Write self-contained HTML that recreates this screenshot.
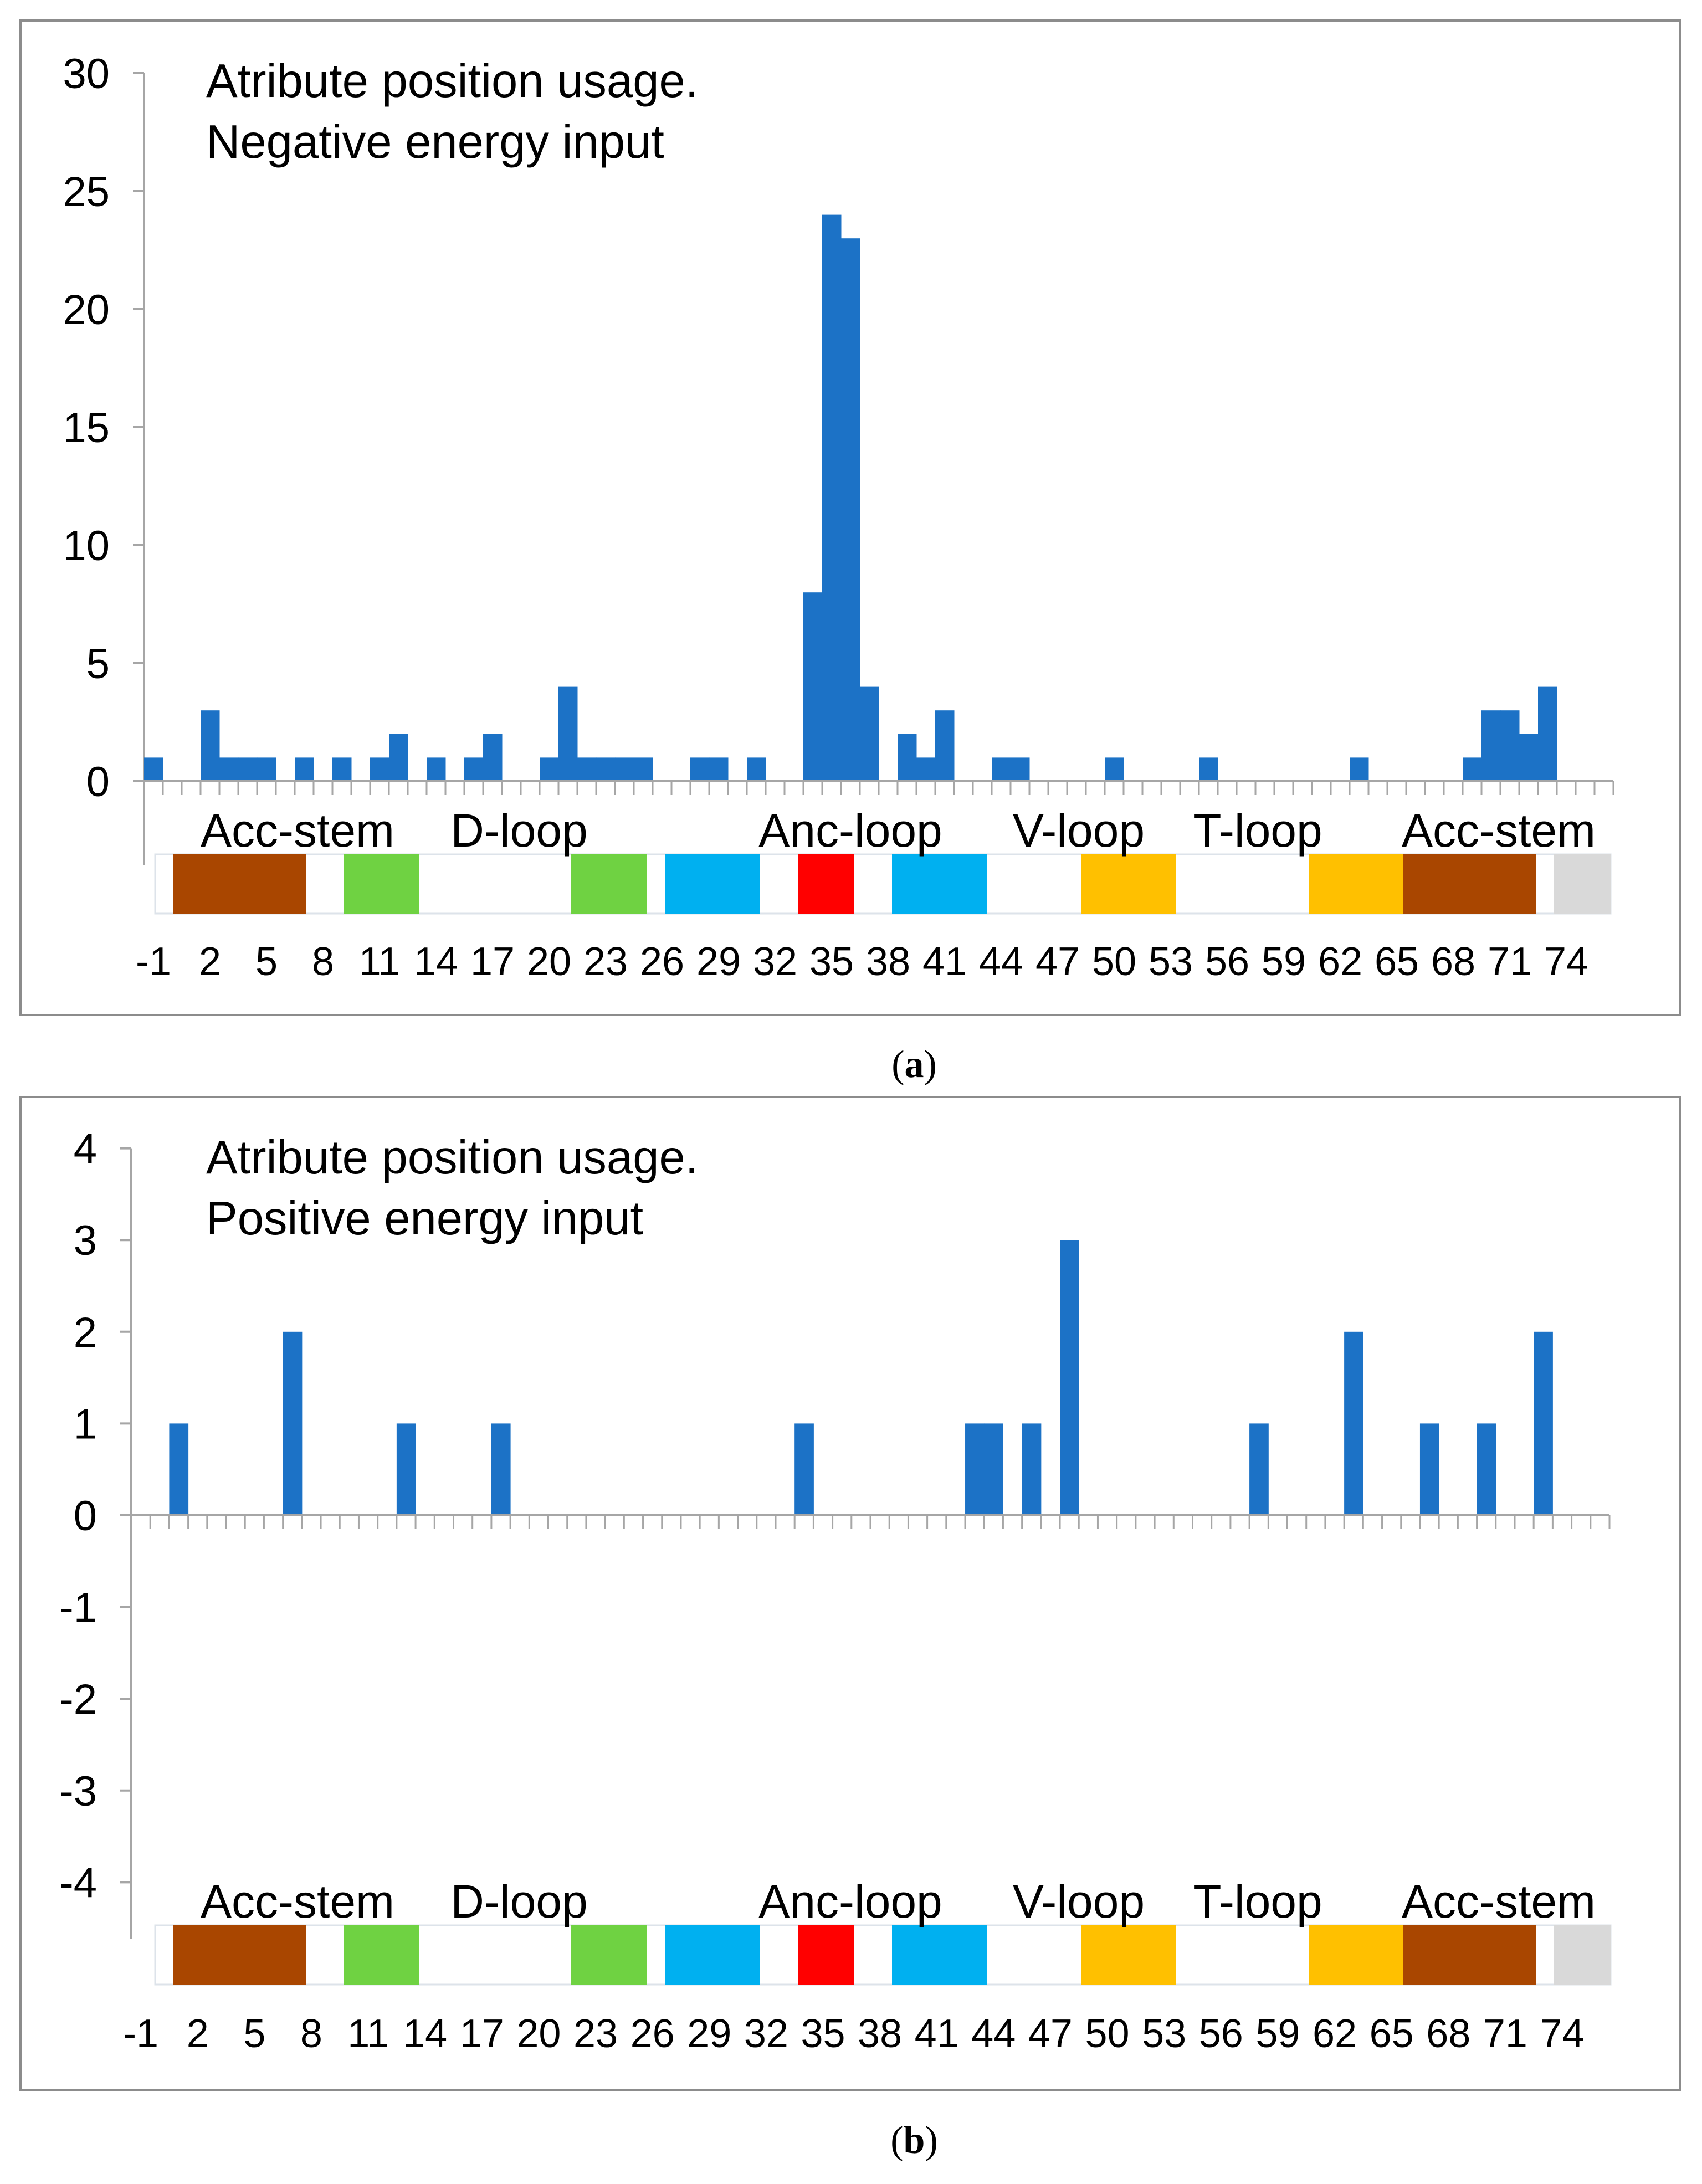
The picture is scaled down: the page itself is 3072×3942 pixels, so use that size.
<!DOCTYPE html>
<html><head><meta charset="utf-8"><style>
html,body{margin:0;padding:0;background:#fff;}
svg{display:block;font-family:"Liberation Sans",sans-serif;}
</style></head><body>
<svg id="fig" width="3072" height="3942" viewBox="0 0 3072 3942" xmlns="http://www.w3.org/2000/svg"></svg>
<script>
// Data
const positions = []; for (let p = -1; p <= 76; p++) positions.push(p);
const negValues = [1,0,0,3,1,1,1,0,1,0,1,0,1,2,0,1,0,1,2,0,0,1,4,1,1,1,1,0,0,1,1,0,1,0,0,8,24,23,4,0,2,1,3,0,0,1,1,0,0,0,0,1,0,0,0,0,1,0,0,0,0,0,0,0,1,0,0,0,0,0,1,3,3,2,4,0,0,0];
const posValues = [0,0,1,0,0,0,0,0,2,0,0,0,0,0,1,0,0,0,0,1,0,0,0,0,0,0,0,0,0,0,0,0,0,0,0,1,0,0,0,0,0,0,0,0,1,1,0,1,0,3,0,0,0,0,0,0,0,0,0,1,0,0,0,0,2,0,0,0,1,0,0,1,0,0,2,0,0,0];
const negTicks = [0,5,10,15,20,25,30];
const posTicks = [-4,-3,-2,-1,0,1,2,3,4];
const regionNames = ["Acc-stem","D-loop","Anc-loop","V-loop","T-loop","Acc-stem"];
const regionCenters = [537,937,1535,1947,2270,2705];
const segColors = ["#a94600","#6fd242","#6fd242","#00b0f0","#ff0000","#00b0f0","#ffc000","#ffc000","#a94600","#d9d9d9"];
const segStart = [312,620,1030,1200,1440,1610,1952,2362,2532,2805];
const segEnd = [552,757,1167,1372,1542,1782,2122,2532,2772,2907];

const svg = document.getElementById('fig');
const NS = "http://www.w3.org/2000/svg";
function mk(tag, attrs, parent){ const e=document.createElementNS(NS,tag); for(const k in attrs) e.setAttribute(k,attrs[k]); (parent||svg).appendChild(e); return e; }

function chart(cfg){
  const g = mk('g',{});
  
  
  const frame = mk('rect',{x:37,y:cfg.fy,width:2995,height:cfg.fh,fill:'none',stroke:'#8c8c8c','stroke-width':4},g);
  
  
  const n = positions.length;
  const cw = (cfg.x1 - cfg.x0)/n;
  const xs = i => cfg.x0 + i*cw;
  const ys = v => cfg.y0 - (v - cfg.vZero)*cfg.unit;
  const ya = mk('line',{x1:cfg.x0,y1:ys(cfg.ticks[cfg.ticks.length-1]),x2:cfg.x0,y2:cfg.yAxisEnd,stroke:'#a6a6a6','stroke-width':4},g);
  
  
  cfg.ticks.forEach(t=>{
    mk('line',{x1:cfg.x0-20,y1:ys(t),x2:cfg.x0,y2:ys(t),stroke:'#a6a6a6','stroke-width':4},g);
    const tx = mk('text',{x:cfg.x0-62,y:ys(t)+27,'text-anchor':'end','font-size':76,fill:'#000'},g);
    tx.textContent = t;
    
    
  });
  cfg.values.forEach((v,i)=>{
    if(!v) return;
    const r = mk('rect',{x:xs(i),y:ys(v),width:cw+0.5,height:ys(0)-ys(v),fill:'#1c72c6'},g);
    
    
  });
  const xa = mk('line',{x1:cfg.x0,y1:ys(0),x2:cfg.x1,y2:ys(0),stroke:'#a6a6a6','stroke-width':4},g);
  
  
  for(let i=0;i<=n;i++) mk('line',{x1:xs(i),y1:ys(0),x2:xs(i),y2:ys(0)+25,stroke:'#a6a6a6','stroke-width':3},g);
  const t1 = mk('text',{x:372,y:cfg.fy+138,'font-size':85,fill:'#000'},g);
  t1.textContent='Atribute position usage.';
  
  
  const t2 = mk('text',{x:372,y:cfg.fy+248,'font-size':85,fill:'#000'},g);
  t2.textContent=cfg.sub;
  
  
  mk('rect',{x:280,y:cfg.sy,width:2627,height:107,fill:'#fff',stroke:'#dde3ea','stroke-width':3},g);
  segColors.forEach((c,k)=>{
    const s = mk('rect',{x:segStart[k],y:cfg.sy,width:segEnd[k]-segStart[k],height:107,fill:c},g);
    
    
  });
  regionNames.forEach((nm,k)=>{
    const l = mk('text',{x:regionCenters[k],y:cfg.sy-14,'text-anchor':'middle','font-size':84,fill:'#000'},g);
    l.textContent=nm;
    
    
  });
  positions.forEach((p,i)=>{
    if(i%3!==0 || p>74) return;
    const l = mk('text',{x:xs(i)+cw/2,y:cfg.ly,'text-anchor':'middle','font-size':72,fill:'#000'},g);
    l.textContent=p;
    
    
  });
  const cap = mk('text',{x:1650,y:cfg.capY,'text-anchor':'middle','font-size':70,'font-family':'Liberation Serif, serif',fill:'#000'},g);
  cap.innerHTML='(<tspan font-weight="bold">'+cfg.cap+'</tspan>)';
  
  
}

chart({name:'chart-negative',fy:37,fh:1795,x0:260,x1:2912,y0:1410,vZero:0,unit:42.6,ticks:negTicks,values:negValues,yAxisEnd:1562,sub:'Negative energy input',sy:1542,ly:1760,capY:1944,cap:'a'});
chart({name:'chart-positive',fy:1980,fh:1792,x0:237,x1:2905,y0:2735,vZero:0,unit:165.6,ticks:posTicks,values:posValues,yAxisEnd:3500,sub:'Positive energy input',sy:3475,ly:3695,capY:3886,cap:'b'});
</script>
</body></html>
